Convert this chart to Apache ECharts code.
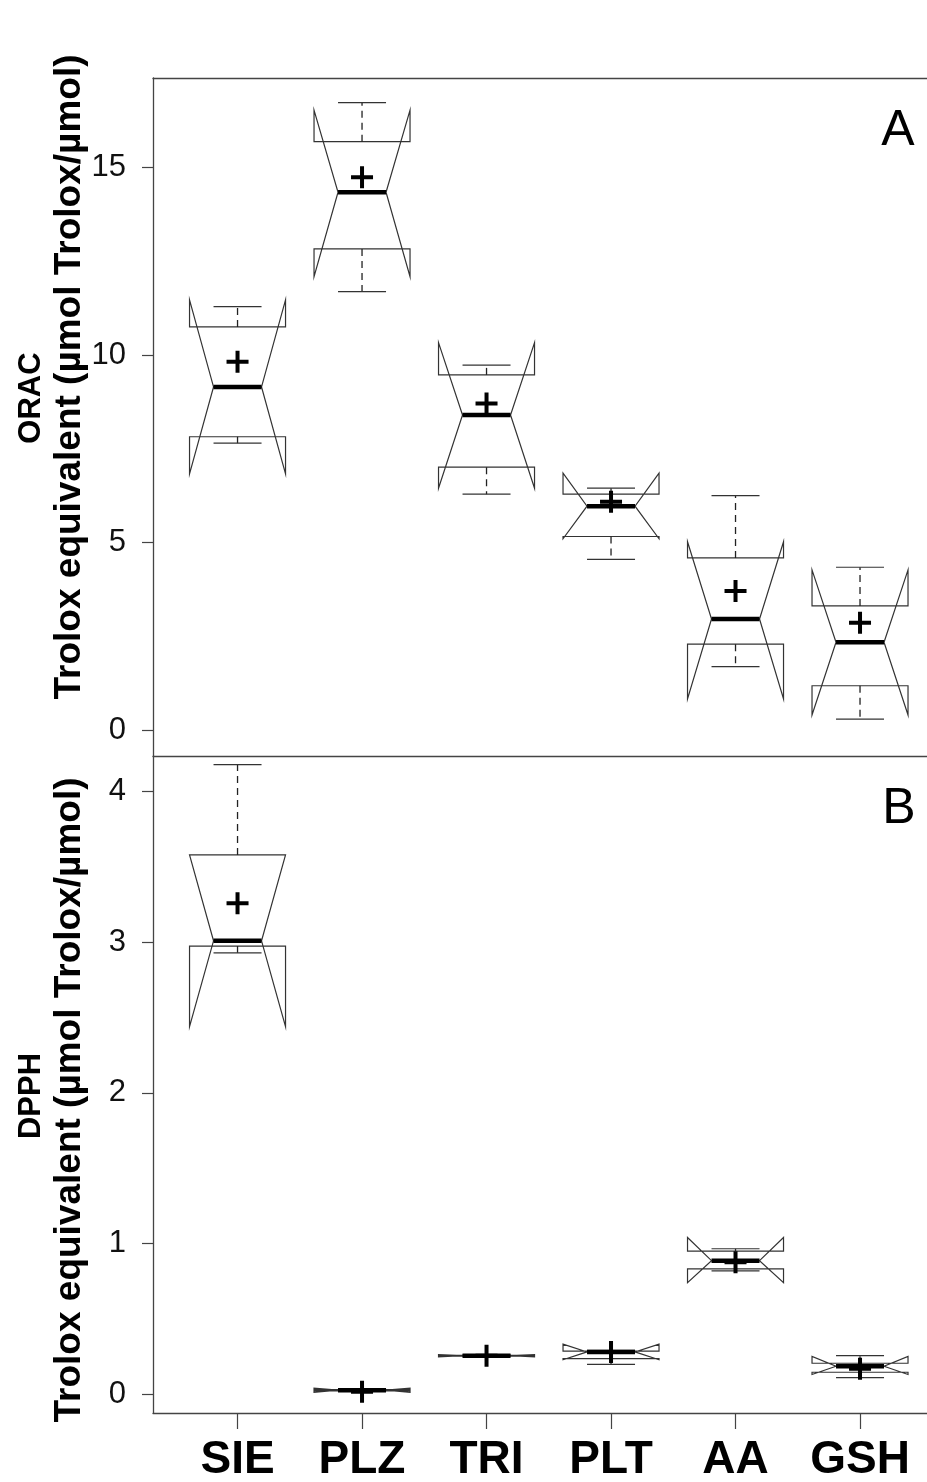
<!DOCTYPE html>
<html><head><meta charset="utf-8">
<script src="https://cdn.jsdelivr.net/npm/echarts@6/dist/echarts.min.js"></script>
<style>html,body{margin:0;padding:0;background:#fff}#c{width:927px;height:1482px}</style>
</head><body><div id="c"></div>
<script>
// ---- data ----
const categories = ['SIE', 'PLZ', 'TRI', 'PLT', 'AA', 'GSH'];

// Panel A: ORAC
const oracMin     = [7.65, 11.69, 6.29, 4.55, 1.69, 0.29];
const oracQ1      = [7.82, 12.83, 7.01, 5.16, 2.29, 1.18];
const oracMedian  = [9.15, 14.34, 8.40, 5.97, 2.96, 2.34];
const oracQ3      = [10.75, 15.69, 9.47, 6.29, 4.59, 3.31];
const oracMax     = [11.29, 16.73, 9.73, 6.45, 6.25, 4.34];
const oracNotchLo = [6.83, 12.09, 6.45, 5.10, 0.83, 0.40];
const oracNotchHi = [11.47, 16.53, 10.33, 6.85, 5.02, 4.27];
const oracMean    = [9.82, 14.74, 8.71, 6.09, 3.71, 2.86];
const oracTicks   = [0, 5, 10, 15];

// Panel B: DPPH
const dpphMin     = [2.93, 0.020, 0.250, 0.198, 0.818, 0.110];
const dpphQ1      = [2.975, 0.022, 0.252, 0.235, 0.831, 0.145];
const dpphMedian  = [3.01, 0.026, 0.255, 0.280, 0.886, 0.185];
const dpphQ3      = [3.58, 0.030, 0.258, 0.285, 0.950, 0.205];
const dpphMax     = [4.18, 0.032, 0.260, 0.290, 0.965, 0.255];
const dpphNotchLo = [2.44, 0.012, 0.248, 0.228, 0.740, 0.130];
const dpphNotchHi = [3.58, 0.040, 0.262, 0.332, 1.040, 0.250];
const dpphMean    = [3.26, 0.015, 0.255, 0.280, 0.876, 0.168];
const dpphTicks   = [0, 1, 2, 3, 4];

// ---- build ----
const catPos = categories.map((c, i) => i + 1);
function boxData(mn, q1, md, q3, mx, nlo, nhi) {
  return categories.map((c, i) => [catPos[i], q1[i], md[i], q3[i], mn[i], mx[i], nlo[i], nhi[i]]);
}
function meanData(m) { return categories.map((c, i) => [catPos[i], m[i]]); }

const BOX_HALF = 48;
const LINE = '#333';
function renderBox(params, api) {
  const x = api.value(0);
  const q1 = api.value(1), md = api.value(2), q3 = api.value(3);
  const mn = api.value(4), mx = api.value(5), nlo = api.value(6), nhi = api.value(7);
  const c = (dx, v) => { const p = api.coord([x, v]); return [p[0] + dx, p[1]]; };
  const W = BOX_HALF;
  const pts = [c(-W, q1), c(W, q1), c(W, nlo), c(W / 2, md), c(W, nhi), c(W, q3),
               c(-W, q3), c(-W, nhi), c(-W / 2, md), c(-W, nlo)];
  const seg = (a, b, style) => ({ type: 'line', shape: { x1: a[0], y1: a[1], x2: b[0], y2: b[1] }, style });
  const dashed = { stroke: '#222', lineWidth: 1.3, lineDash: [7, 5] };
  const solid = { stroke: LINE, lineWidth: 1.2 };
  return {
    type: 'group',
    children: [
      { type: 'polygon', shape: { points: pts }, style: { fill: 'none', stroke: LINE, lineWidth: 1.2 } },
      seg(c(0, q3), c(0, mx), dashed),
      seg(c(0, q1), c(0, mn), dashed),
      seg(c(-W / 2, mx), c(W / 2, mx), solid),
      seg(c(-W / 2, mn), c(W / 2, mn), solid),
      seg(c(-W / 2, md), c(W / 2, md), { stroke: '#000', lineWidth: 4.5 })
    ]
  };
}

const PLUS = 'path://M0,9L22,9L22,13L0,13Z M9,0L13,0L13,22L9,22Z';
const xMin = 0.321, xMax = 6.538;
const AXC = '#444';

const hiddenX = (grid, pos) => ({
  gridIndex: grid, type: 'value', min: xMin, max: xMax, position: pos,
  axisLine: { show: true, onZero: false, lineStyle: { color: AXC, width: 1.3 } },
  axisTick: { show: false }, axisLabel: { show: false }, splitLine: { show: false }
});

const yAx = (grid, min, max, ticks) => ({
  gridIndex: grid, type: 'value', min, max,
  axisLine: { show: true, onZero: false, lineStyle: { color: AXC, width: 1.3 } },
  axisTick: { show: true, customValues: ticks, length: 11, lineStyle: { color: AXC, width: 1.2 } },
  axisLabel: { show: true, customValues: ticks, fontSize: 31, fontFamily: 'Liberation Sans', color: '#111', margin: 27 },
  splitLine: { show: false }
});

const meanSeries = (xi, yi, m) => ({
  type: 'scatter', xAxisIndex: xi, yAxisIndex: yi, symbol: PLUS, symbolSize: 22,
  itemStyle: { color: '#000', opacity: 1, borderWidth: 0 },
  emphasis: { disabled: true }, data: meanData(m), z: 5
});

const option = {
  backgroundColor: '#fff',
  animation: false,
  grid: [
    { left: 153, top: 78, width: 774, height: 678, containLabel: false, outerBoundsMode: 'none' },
    { left: 153, top: 756, width: 774, height: 657, containLabel: false, outerBoundsMode: 'none' }
  ],
  xAxis: [
    hiddenX(0, 'bottom'),
    hiddenX(0, 'top'),
    {
      gridIndex: 1, type: 'value', min: xMin, max: xMax, position: 'bottom',
      axisLine: { show: true, onZero: false, lineStyle: { color: AXC, width: 1.3 } },
      axisTick: { show: true, customValues: catPos, length: 16, lineStyle: { color: AXC, width: 1.2 } },
      axisLabel: {
        show: true, customValues: catPos, formatter: v => categories[Math.round(v) - 1] || '',
        fontSize: 46, fontWeight: 'bold', fontFamily: 'Liberation Sans', color: '#000', margin: 24
      },
      splitLine: { show: false }
    }
  ],
  yAxis: [
    yAx(0, -0.693, 17.387, oracTicks),
    yAx(1, -0.1255, 4.237, dpphTicks)
  ],
  graphic: [
    { type: 'text', x: 31, y: 398, rotation: Math.PI / 2,
      style: { text: 'ORAC', font: 'bold 31px "Liberation Sans"', fill: '#000', align: 'center', verticalAlign: 'middle', textAlign: 'center', textVerticalAlign: 'middle' } },
    { type: 'text', x: 70, y: 377, rotation: Math.PI / 2,
      style: { text: 'Trolox equivalent (µmol Trolox/µmol)', font: 'bold 37px "Liberation Sans"', fill: '#000', align: 'center', verticalAlign: 'middle', textAlign: 'center', textVerticalAlign: 'middle' } },
    { type: 'text', x: 31, y: 1096, rotation: Math.PI / 2,
      style: { text: 'DPPH', font: 'bold 31px "Liberation Sans"', fill: '#000', align: 'center', verticalAlign: 'middle', textAlign: 'center', textVerticalAlign: 'middle' } },
    { type: 'text', x: 70, y: 1100, rotation: Math.PI / 2,
      style: { text: 'Trolox equivalent (µmol Trolox/µmol)', font: 'bold 37px "Liberation Sans"', fill: '#000', align: 'center', verticalAlign: 'middle', textAlign: 'center', textVerticalAlign: 'middle' } },
    { type: 'text', x: 898, y: 131,
      style: { text: 'A', font: '50px "Liberation Sans"', fill: '#000', align: 'center', verticalAlign: 'middle', textAlign: 'center', textVerticalAlign: 'middle' } },
    { type: 'text', x: 899, y: 809,
      style: { text: 'B', font: '50px "Liberation Sans"', fill: '#000', align: 'center', verticalAlign: 'middle', textAlign: 'center', textVerticalAlign: 'middle' } }
  ],
  series: [
    { type: 'custom', xAxisIndex: 0, yAxisIndex: 0, renderItem: renderBox, clip: false,
      encode: { x: 0, y: [1, 2, 3, 4, 5, 6, 7] },
      data: boxData(oracMin, oracQ1, oracMedian, oracQ3, oracMax, oracNotchLo, oracNotchHi) },
    { type: 'custom', xAxisIndex: 2, yAxisIndex: 1, renderItem: renderBox, clip: false,
      encode: { x: 0, y: [1, 2, 3, 4, 5, 6, 7] },
      data: boxData(dpphMin, dpphQ1, dpphMedian, dpphQ3, dpphMax, dpphNotchLo, dpphNotchHi) },
    meanSeries(0, 0, oracMean),
    meanSeries(2, 1, dpphMean)
  ]
};

const chart = echarts.init(document.getElementById('c'), null, { renderer: 'canvas' });
chart.setOption(option);
</script>
</body></html>
